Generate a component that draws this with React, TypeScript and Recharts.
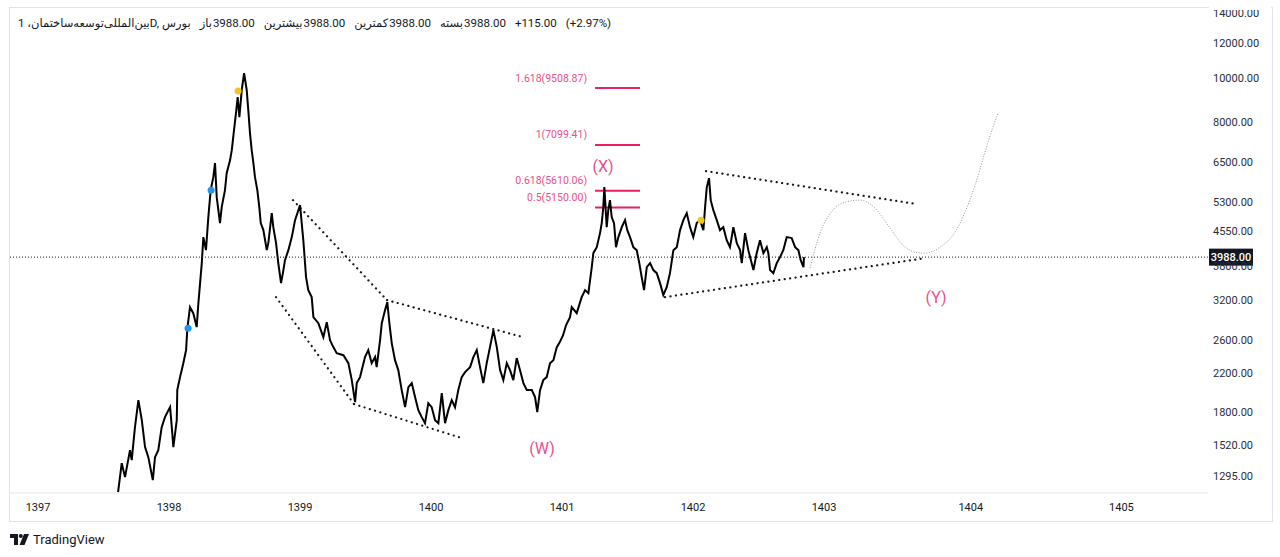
import React from 'react';
import { ComposedChart, Line, XAxis, YAxis, ReferenceLine, ReferenceDot } from 'recharts';

// ---- price path (time in bar-years, close-ish values) ----
const priceT = [
  1397.611, 1397.639, 1397.664, 1397.702, 1397.715, 1397.740, 1397.766, 1397.792, 1397.817, 1397.842,
  1397.876, 1397.893, 1397.918, 1397.944, 1397.969, 1398.008, 1398.021, 1398.033, 1398.059, 1398.063,
  1398.084, 1398.109, 1398.130, 1398.140, 1398.160, 1398.185, 1398.211, 1398.224, 1398.237, 1398.250,
  1398.262, 1398.282, 1398.300, 1398.318, 1398.338, 1398.351, 1398.364, 1398.389, 1398.402, 1398.427,
  1398.440, 1398.466, 1398.479, 1398.496, 1398.511, 1398.524, 1398.537, 1398.555, 1398.573, 1398.593,
  1398.605, 1398.618, 1398.631, 1398.644, 1398.656, 1398.674, 1398.689, 1398.700, 1398.720, 1398.746,
  1398.758, 1398.784, 1398.796, 1398.817, 1398.834, 1398.855, 1398.873, 1398.885, 1398.911, 1398.937,
  1398.962, 1399.000,
  1399.025, 1399.046, 1399.063, 1399.089, 1399.102, 1399.140, 1399.178, 1399.204, 1399.229, 1399.254,
  1399.280, 1399.331, 1399.369, 1399.395, 1399.420, 1399.433, 1399.458, 1399.496, 1399.521, 1399.547,
  1399.573, 1399.585, 1399.611, 1399.624, 1399.649, 1399.666, 1399.682, 1399.700, 1399.725, 1399.750,
  1399.776, 1399.802, 1399.827, 1399.853, 1399.878, 1399.903, 1399.929, 1399.954, 1399.979, 1400.005,
  1400.031, 1400.056, 1400.082, 1400.107, 1400.132, 1400.158, 1400.183, 1400.208, 1400.234, 1400.260,
  1400.298, 1400.323, 1400.349, 1400.374, 1400.399, 1400.425, 1400.450, 1400.476, 1400.502, 1400.527,
  1400.552, 1400.578, 1400.603, 1400.628, 1400.654, 1400.679, 1400.705, 1400.731, 1400.769, 1400.794,
  1400.811, 1400.832, 1400.857, 1400.883, 1400.908, 1400.934, 1400.960, 1400.979,
  1401.008, 1401.031,
  1401.061, 1401.074, 1401.112, 1401.150, 1401.176, 1401.201, 1401.214, 1401.227, 1401.239, 1401.265,
  1401.290, 1401.303, 1401.315, 1401.323, 1401.341, 1401.353, 1401.366, 1401.379, 1401.397, 1401.412,
  1401.430, 1401.456, 1401.481, 1401.498, 1401.519, 1401.544, 1401.570, 1401.590, 1401.608, 1401.626,
  1401.647, 1401.672, 1401.697, 1401.723, 1401.748, 1401.773, 1401.799, 1401.824, 1401.850, 1401.876,
  1401.901, 1401.926, 1401.952, 1401.977, 1402.002, 1402.028, 1402.053, 1402.079, 1402.092, 1402.105,
  1402.122, 1402.135, 1402.155, 1402.181, 1402.206, 1402.231, 1402.257, 1402.282, 1402.308, 1402.334,
  1402.359, 1402.372, 1402.397, 1402.422, 1402.461, 1402.486, 1402.511, 1402.537, 1402.563, 1402.575,
  1402.588, 1402.613, 1402.639, 1402.664, 1402.689, 1402.715, 1402.753, 1402.779, 1402.804, 1402.822,
  1402.843, 1402.847,
];
const priceV = [
  1191, 1383, 1287, 1478, 1404, 1664, 1912, 1725, 1502, 1426,
  1267, 1426, 1478, 1664, 1752, 1844, 1664, 1502, 1725, 2013,
  2152, 2312, 2472, 2769, 3084, 2990, 2783, 3148, 3489, 3867,
  4420, 4134, 4899, 5628, 6017, 6467, 5429, 4750, 5157, 5628,
  6142, 6567, 6913, 7663, 8362, 9080, 8193, 9413, 10273, 9413,
  8492, 7546, 6913, 6467, 6017, 5628, 5157, 4750, 4582, 4134,
  4286, 5000, 4653, 4286, 3867, 3489, 3731, 3927, 4134, 4420,
  4823, 5210,
  4352, 3598, 3366, 3247, 2929, 2840, 2643, 2855, 2603, 2511,
  2434, 2409, 2312, 2119, 1892, 2087, 2152, 2385, 2472, 2312,
  2385, 2265, 2603, 2840, 3037, 3164, 2840, 2563, 2348, 2231,
  2013, 1844, 2044, 2087, 1942, 1816, 1752, 1698, 1882, 1844,
  1725, 1698, 1982, 1698, 1816, 1912, 1844, 2013, 2152, 2208,
  2265, 2385, 2472, 2265, 2087, 2312, 2511, 2740, 2511, 2231,
  2119, 2312, 2231, 2119, 2373, 2231, 2087, 2013, 2013, 1942,
  1798, 2013, 2119, 2152, 2312, 2348, 2511, 2563,
  2670, 2812,
  2929, 3084, 2990, 3247, 3366, 3314, 3543, 3788, 4070, 4198,
  4512, 4750, 5157, 5716, 4653, 5078, 5346, 4899, 4750, 4198,
  4420, 4653, 4823, 4582, 4420, 4198, 4134, 3867, 3598, 3366,
  3788, 3867, 3731, 3673, 3489, 3281, 3418, 3673, 4134, 4198,
  4582, 4823, 5000, 4653, 4420, 4750, 4823, 4582, 5157, 5716,
  5986, 5346, 5078, 4823, 4582, 4653, 4352, 4198, 4653, 4286,
  4134, 3867, 4512, 4134, 3731, 4070, 4352, 4070, 4198, 4070,
  3731, 3673, 3867, 3988, 4134, 4420, 4399, 4198, 4134, 3927,
  3788, 3988,
];

// ---- projected path (dotted gray curve) ----
const projT = [1402.893, 1402.969, 1403.069, 1403.160, 1403.275, 1403.397, 1403.504, 1403.603, 1403.695,
  1403.771, 1403.885, 1404.000, 1404.076, 1404.153, 1404.229, 1404.282, 1404.328];
const projV = [3769, 4512, 5078, 5291, 5346, 5104, 4629, 4242, 4091, 4070, 4198, 4535, 5026, 5775, 6842, 7662, 8362];

// ---- axes ----
const yearTickPos = [1397, 1398, 1399, 1400, 1401, 1402, 1403, 1404.12, 1405.27];
const yearTickLabels = ['1397', '1398', '1399', '1400', '1401', '1402', '1403', '1404', '1405'];
const priceTicks = [1295, 1520, 1800, 2200, 2600, 3200, 3800, 4550, 5300, 6500, 8000, 10000, 12000, 14000];
const lastClose = 3988;

// ---- fibonacci extension ----
const fibRatios = ['1.618', '1', '0.618', '0.5'];
const fibValues = [9508.87, 7099.41, 5610.06, 5150.0];
const fibFromT = 1401.252;
const fibToT = 1401.595;

// ---- trend lines (dotted) ----
const trendT1 = [1398.947, 1399.664, 1398.817, 1399.412, 1402.099, 1401.786];
const trendV1 = [5346, 3197, 3247, 1873, 6206, 3247];
const trendT2 = [1399.664, 1400.702, 1399.412, 1400.237, 1403.710, 1403.771];
const trendV2 = [3197, 2643, 1873, 1572, 5237, 3968];

// ---- wave labels ----
const waveNames = ['(X)', '(W)', '(Y)'];
const waveT = [1401.313, 1400.847, 1403.855];
const waveV = [6367, 1494, 3247];

// ---- colored markers ----
const markerT = [1398.145, 1398.321, 1398.527, 1402.061];
const markerV = [2768, 5628, 9364, 4823];
const markerColor = ['#2196f3', '#2196f3', '#f5c31c', '#f5c31c'];

const priceData = priceT.map((t, i) => ({ t, p: priceV[i] }));
const projData = projT.map((t, i) => ({ t, p: projV[i] }));

const PINK = '#e91e63';
const PINK_TEXT = '#e8508a';
const FONT = "Roboto, 'DejaVu Sans', sans-serif";

const legendItems = [
  { label: 'باز', value: '3988.00' },
  { label: 'بیشترین', value: '3988.00' },
  { label: 'کمترین', value: '3988.00' },
  { label: 'بسته', value: '3988.00' },
];

export default function App() {
  return (
    <div style={{ position: 'absolute', left: 0, top: 0, width: 1280, height: 557, background: '#fff', fontFamily: FONT, overflow: 'hidden' }}>
      <ComposedChart width={1280} height={521} margin={{ top: 7, right: 0, left: 10, bottom: 0 }}>
        <XAxis
          dataKey="t"
          type="number"
          domain={[1396.786, 1405.931]}
          allowDataOverflow
          ticks={yearTickPos}
          interval={0}
          tickFormatter={(v: number, i: number) => yearTickLabels[i]}
          height={28}
          axisLine={{ stroke: '#e0e3eb' }}
          tickLine={false}
          tickSize={4}
          tickMargin={6}
          tick={{ fill: '#131722', fontSize: 11, fontFamily: FONT }}
        />
        <YAxis
          type="number"
          orientation="right"
          scale="log"
          domain={[1186, 14430]}
          allowDataOverflow
          ticks={priceTicks}
          interval={0}
          tickFormatter={(v: number) => v.toFixed(2)}
          width={72}
          axisLine={false}
          tickLine={false}
          tickSize={2}
          tickMargin={3}
          tick={{ fill: '#2a2e39', fontSize: 11, fontFamily: FONT }}
        />
        {fibValues.map((v, i) => (
          <ReferenceLine
            key={'fib' + i}
            segment={[{ x: fibFromT, y: v }, { x: fibToT, y: v }]}
            stroke={PINK}
            strokeWidth={2}
            label={(props: any) => (
              <text x={props.viewBox.x - 8} y={props.viewBox.y - 10} textAnchor="end" dominantBaseline="central"
                fill={PINK_TEXT} fontSize={10.5} fontFamily={FONT}>
                {`${fibRatios[i]}(${v.toFixed(2)})`}
              </text>
            )}
          />
        ))}
        {trendT1.map((t, i) => (
          <ReferenceLine
            key={'tr' + i}
            segment={[{ x: t, y: trendV1[i] }, { x: trendT2[i], y: trendV2[i] }]}
            stroke="#131722"
            strokeWidth={2.2}
            strokeDasharray="0.1 5.4"
            strokeLinecap="round"
          />
        ))}
        <Line data={projData} dataKey="p" type="monotone" stroke="#9598a1" strokeWidth={1} strokeDasharray="1 1.6"
          dot={false} isAnimationActive={false} />
        <Line data={priceData} dataKey="p" type="linear" stroke="#000" strokeWidth={2} dot={false}
          isAnimationActive={false} />
        {markerT.map((t, i) => (
          <ReferenceDot key={'mk' + i} x={t} y={markerV[i]} r={3.5} fill={markerColor[i]} stroke="none" />
        ))}
        {waveNames.map((n, i) => (
          <ReferenceDot
            key={'wv' + i}
            x={waveT[i]}
            y={waveV[i]}
            r={1}
            shape={(p: any) => (
              <text x={p.cx} y={p.cy} textAnchor="middle" dominantBaseline="central" fill={PINK_TEXT}
                fontSize={16} fontFamily={FONT}>{n}</text>
            )}
          />
        ))}
        <ReferenceLine
          y={lastClose}
          stroke="#131722"
          strokeWidth={1}
          strokeDasharray="1 2"
          label={(props: any) => {
            const vb = props.viewBox;
            const x = vb.x + vb.width + 1;
            return (
              <g>
                <rect x={x} y={vb.y - 8.5} width={44} height={17} fill="#131722" />
                <text x={x + 22} y={vb.y} textAnchor="middle" dominantBaseline="central" fill="#fff"
                  fontSize={11} fontFamily={FONT} fontWeight={500}>{lastClose.toFixed(2)}</text>
              </g>
            );
          }}
        />
      </ComposedChart>

      {/* frame */}
      <div style={{ position: 'absolute', left: 9, top: 7, width: 1262, height: 513, border: '1px solid #e0e3eb', pointerEvents: 'none' }} />
      <div style={{ position: 'absolute', left: 1209, top: 0, width: 62, height: 10, background: '#fff' }} />

      {/* header legend */}
      <div style={{ position: 'absolute', left: 18, top: 15, height: 16, display: 'flex', alignItems: 'center', gap: 9, fontSize: 11.5, color: '#131722', whiteSpace: 'nowrap', direction: 'ltr' }}>
        <span style={{ display: 'inline-block' }}>{'بین‌المللی‌توسعه‌ساختمان، 1D, بورس'}</span>
        {legendItems.map((it, i) => (
          <span key={i} style={{ display: 'inline-flex', gap: 1 }}>
            <span>{it.label}</span>
            <span>{it.value}</span>
          </span>
        ))}
        <span>+115.00</span>
        <span>(+2.97%)</span>
      </div>

      {/* TradingView logo */}
      <div style={{ position: 'absolute', left: 10, top: 532, display: 'flex', alignItems: 'center', gap: 4 }}>
        <svg width={19} height={11} viewBox="0 0 19 11">
          <path d="M0 0 H8 V11 H4 V4 H0 Z" fill="#131722" />
          <circle cx={10.8} cy={2} r={2} fill="#131722" />
          <path d="M14 0 H19 L14.5 11 H9.5 Z" fill="#131722" />
        </svg>
        <span style={{ fontSize: 13, color: '#131722', fontFamily: FONT }}>TradingView</span>
      </div>
    </div>
  );
}
